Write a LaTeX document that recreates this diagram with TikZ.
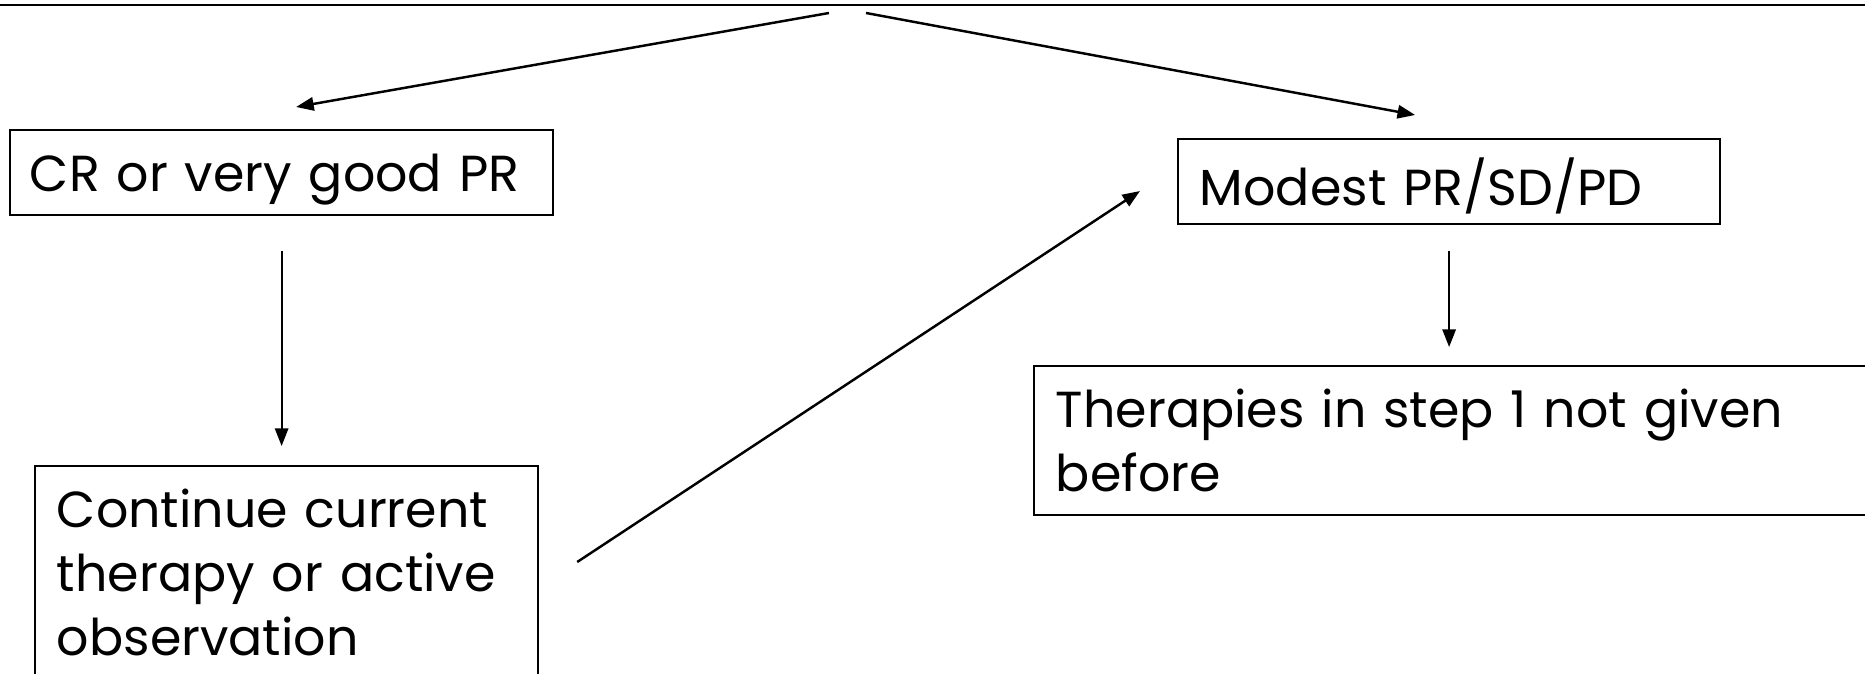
\documentclass[tikz,border=0pt]{standalone}
\usepackage{fontspec}
\setmainfont{Poppins}
\usetikzlibrary{arrows.meta,positioning}
\tikzset{
  box/.style={draw, line width=0.55pt, anchor=north west, align=left,
    inner xsep=0.22cm, inner ysep=0.23cm,
    font=\fontsize{14.4pt}{18.2pt}\selectfont},
  onebox/.style={box, inner ysep=0.1cm, minimum height=0.85cm, text depth=0pt},
  arrow/.style={line width=0.7pt, -{Triangle[length=5pt,width=3.8pt]}}
}
\begin{document}
\begin{tikzpicture}[x=0.01cm, y=-0.01cm]
    \useasboundingbox (0,0) rectangle (1865,674);
    % bottom edge of the box above
    \draw[line width=0.75pt] (-10,5) -- (1875,5);
    \coordinate (splitl) at (829,13);
    \coordinate (splitr) at (866,13);
    \node[onebox, inner xsep=0.2cm, text width=5.03cm] (cr) at (9,129) {CR or very good PR};
    \node[onebox, text width=4.98cm] (modest) at (1177,138) {Modest PR/SD/PD};
    \node[box, text width=4.59cm] (cont) at (34,465) {Continue current\\therapy or active\\observation};
    \node[box, text width=8.56cm] (ther) at (1033,365) {Therapies in step 1 not given\\before};
    \draw[arrow] (splitl) -- ([shift={(14.5,-22)}]cr.north);
    \draw[arrow] (splitr) -- ([shift={(-34,-23)}]modest.north);
    \draw[arrow, line width=0.55pt, shorten <=0.35cm, shorten >=0.19cm] (cr.south) -- (cr.south |- cont.north);
    \draw[arrow, line width=0.55pt, shorten <=0.26cm, shorten >=0.18cm] (modest.south) -- (modest.south |- ther.north);
    \draw[arrow] ([shift={(38,97)}]cont.north east) -- ([shift={(-37,9.5)}]modest.west);
\end{tikzpicture}
\end{document}
